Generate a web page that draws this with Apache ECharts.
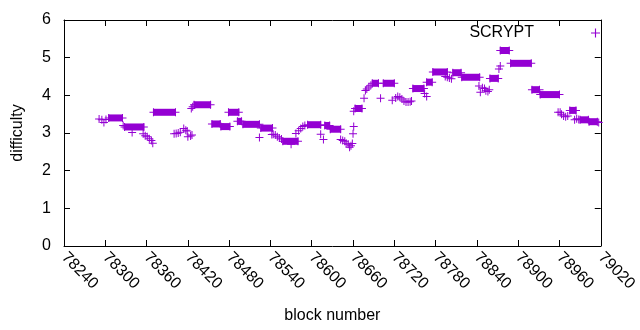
<!DOCTYPE html>
<html>
<head>
<meta charset="utf-8">
<script src="https://cdn.jsdelivr.net/npm/echarts@6/dist/echarts.min.js"></script>
<style>
  html, body { margin: 0; padding: 0; background: #fff; }
  #chart { width: 640px; height: 330px; }
</style>
</head>
<body>
<div id="chart"></div>
<script>
// x axis ticks
var xTicks = [78240, 78300, 78360, 78420, 78480, 78540, 78600, 78660, 78720, 78780, 78840, 78900, 78960, 79020];
// y axis ticks
var yTicks = [0, 1, 2, 3, 4, 5, 6];

// flat stretches: difficulty stays the same from runStart to runEnd
var runStart = [78305, 78328, 78370, 78429, 78455, 78468, 78479, 78492, 78500, 78526,
                78558, 78594, 78619, 78627, 78663, 78688, 78704, 78747, 78767, 78776,
                78805, 78818, 78859, 78874, 78889, 78920, 78932, 78975, 78990, 79003];
var runEnd   = [78325, 78356, 78402, 78453, 78467, 78481, 78494, 78498, 78524, 78543,
                78580, 78613, 78626, 78642, 78673, 78697, 78720, 78763, 78775, 78797,
                78817, 78844, 78871, 78887, 78919, 78931, 78960, 78984, 79002, 79015];
var runDiff  = [3.40, 3.16, 3.55, 3.75, 3.24, 3.17, 3.55, 3.31, 3.23, 3.13,
                2.78, 3.22, 3.20, 3.10, 3.65, 4.32, 4.32, 4.18, 4.35, 4.62,
                4.60, 4.48, 4.45, 5.19, 4.85, 4.15, 4.02, 3.60, 3.35, 3.30];

// single blocks
var ptBlock = [78291, 78295, 78298, 78301, 78326, 78339,
               78355, 78358, 78361, 78364, 78367, 78369,
               78400, 78403, 78406, 78409, 78414, 78417, 78419, 78420, 78424, 78426,
               78425, 78427, 78524,
               78542, 78544, 78547, 78550, 78553, 78556, 78570,
               78577, 78581, 78584, 78587, 78590, 78613, 78617,
               78642, 78645, 78648, 78650, 78653, 78655, 78657, 78659,
               78660, 78661, 78661,
               78676, 78678, 78680, 78683, 78686, 78700,
               78717, 78722, 78725, 78728, 78731, 78734, 78737, 78740, 78743, 78745,
               78764, 78767, 78794, 78797, 78800, 78803,
               78843, 78845, 78848, 78851, 78853, 78856, 78858,
               78872, 78874,
               78958, 78961, 78963, 78966, 78969, 78972,
               78982, 78985, 78988, 79017];
var ptDiff  = [3.37, 3.35, 3.28, 3.36, 3.20, 3.01,
               2.98, 2.93, 2.90, 2.85, 2.80, 2.73,
               2.98, 2.99, 3.00, 3.02, 3.12, 3.07, 3.05, 2.90, 2.92, 2.95,
               3.65, 3.70, 2.88,
               2.96, 2.97, 2.95, 2.90, 2.87, 2.84, 2.70,
               2.99, 3.06, 3.12, 3.17, 3.20, 2.97, 2.83,
               2.83, 2.80, 2.78, 2.73, 2.70, 2.62, 2.66, 2.72,
               2.98, 3.17, 3.58,
               3.92, 4.13, 4.17, 4.22, 4.27, 3.92,
               3.87, 3.93, 3.97, 3.95, 3.90, 3.85, 3.82, 3.82, 3.83, 3.85,
               4.05, 3.97, 4.50, 4.48, 4.46, 4.44,
               4.25, 4.08, 4.20, 4.18, 4.12, 4.10, 4.15,
               4.70, 4.78,
               3.55, 3.55, 3.50, 3.45, 3.43, 3.45,
               3.35, 3.38, 3.36, 3.28];

var purple = '#9400d3';
var plus = 'path://M0,3.5h8v1h-8zM3.5,0h1v8h-1z';
var font = '"Liberation Sans", Arial, sans-serif';

// points for the scatter: single blocks plus both ends of every flat stretch
var points = [];
for (var i = 0; i < ptBlock.length; i++) {
  points.push([ptBlock[i], ptDiff[i]]);
}
var runs = [];
for (var j = 0; j < runStart.length; j++) {
  runs.push([runStart[j], runEnd[j], runDiff[j]]);
  points.push([runStart[j], runDiff[j]]);
  points.push([runEnd[j], runDiff[j]]);
}

var myChart = echarts.init(document.getElementById('chart'));

var axisCommon = {
  axisLine: { show: true, onZero: false, lineStyle: { color: '#000', width: 1 } },
  axisTick: { show: true, inside: true, length: 6, lineStyle: { color: '#000' } },
  splitLine: { show: false }
};

var option = {
  animation: false,
  backgroundColor: '#fff',
  color: [purple],
  textStyle: { fontFamily: font },
  grid: { left: 64, right: 34, top: 20, bottom: 84, containLabel: false },
  legend: {
    right: 35,
    top: 20,
    align: 'right',
    itemWidth: 9,
    itemHeight: 9,
    itemGap: 0,
    data: [{ name: 'SCRYPT', icon: plus, itemStyle: { color: purple } }],
    formatter: function (name) { return '{t|' + name + '}{s|}'; },
    textStyle: {
      color: '#000',
      fontSize: 16,
      fontFamily: font,
      rich: {
        t: { fontSize: 16, fontFamily: font, color: '#000' },
        s: { width: 52 }
      }
    }
  },
  xAxis: [
    Object.assign({
      type: 'value',
      min: xTicks[0],
      max: xTicks[xTicks.length - 1],
      interval: 60,
      position: 'bottom',
      name: 'block number',
      nameLocation: 'middle',
      nameGap: 62,
      nameTextStyle: { color: '#000', fontSize: 16, fontFamily: font },
      axisLabel: {
        rotate: -45,
        margin: 9,
        color: '#000',
        fontSize: 16,
        fontFamily: font,
        showMinLabel: true,
        showMaxLabel: true,
        formatter: function (v) { return String(v); }
      }
    }, axisCommon),
    Object.assign({
      type: 'value',
      min: xTicks[0],
      max: xTicks[xTicks.length - 1],
      interval: 60,
      position: 'top',
      axisLabel: { show: false }
    }, axisCommon)
  ],
  yAxis: [
    Object.assign({
      type: 'value',
      min: yTicks[0],
      max: yTicks[yTicks.length - 1],
      interval: 1,
      position: 'left',
      name: 'difficulty',
      nameLocation: 'middle',
      nameGap: 38,
      nameTextStyle: { color: '#000', fontSize: 16, fontFamily: font },
      axisLabel: { margin: 13, color: '#000', fontSize: 16, fontFamily: font }
    }, axisCommon),
    Object.assign({
      type: 'value',
      min: yTicks[0],
      max: yTicks[yTicks.length - 1],
      interval: 1,
      position: 'right',
      axisLabel: { show: false }
    }, axisCommon)
  ],
  series: [
    {
      // solid body of a flat stretch (the packed markers)
      name: 'SCRYPT',
      type: 'custom',
      xAxisIndex: 0,
      yAxisIndex: 0,
      encode: { x: [0, 1], y: 2 },
      itemStyle: { color: purple },
      silent: true,
      data: runs,
      renderItem: function (params, api) {
        var a = api.coord([api.value(0), api.value(2)]);
        var b = api.coord([api.value(1), api.value(2)]);
        return {
          type: 'rect',
          shape: { x: a[0] - 0.5, y: a[1] - 3.5, width: b[0] - a[0] + 1, height: 7 },
          style: { fill: purple }
        };
      }
    },
    {
      name: 'SCRYPT',
      type: 'scatter',
      xAxisIndex: 0,
      yAxisIndex: 0,
      symbol: plus,
      symbolSize: 8,
      silent: true,
      emphasis: { disabled: true },
      itemStyle: { color: purple, opacity: 1, borderWidth: 0 },
      data: points
    }
  ]
};

myChart.setOption(option);
</script>
</body>
</html>
